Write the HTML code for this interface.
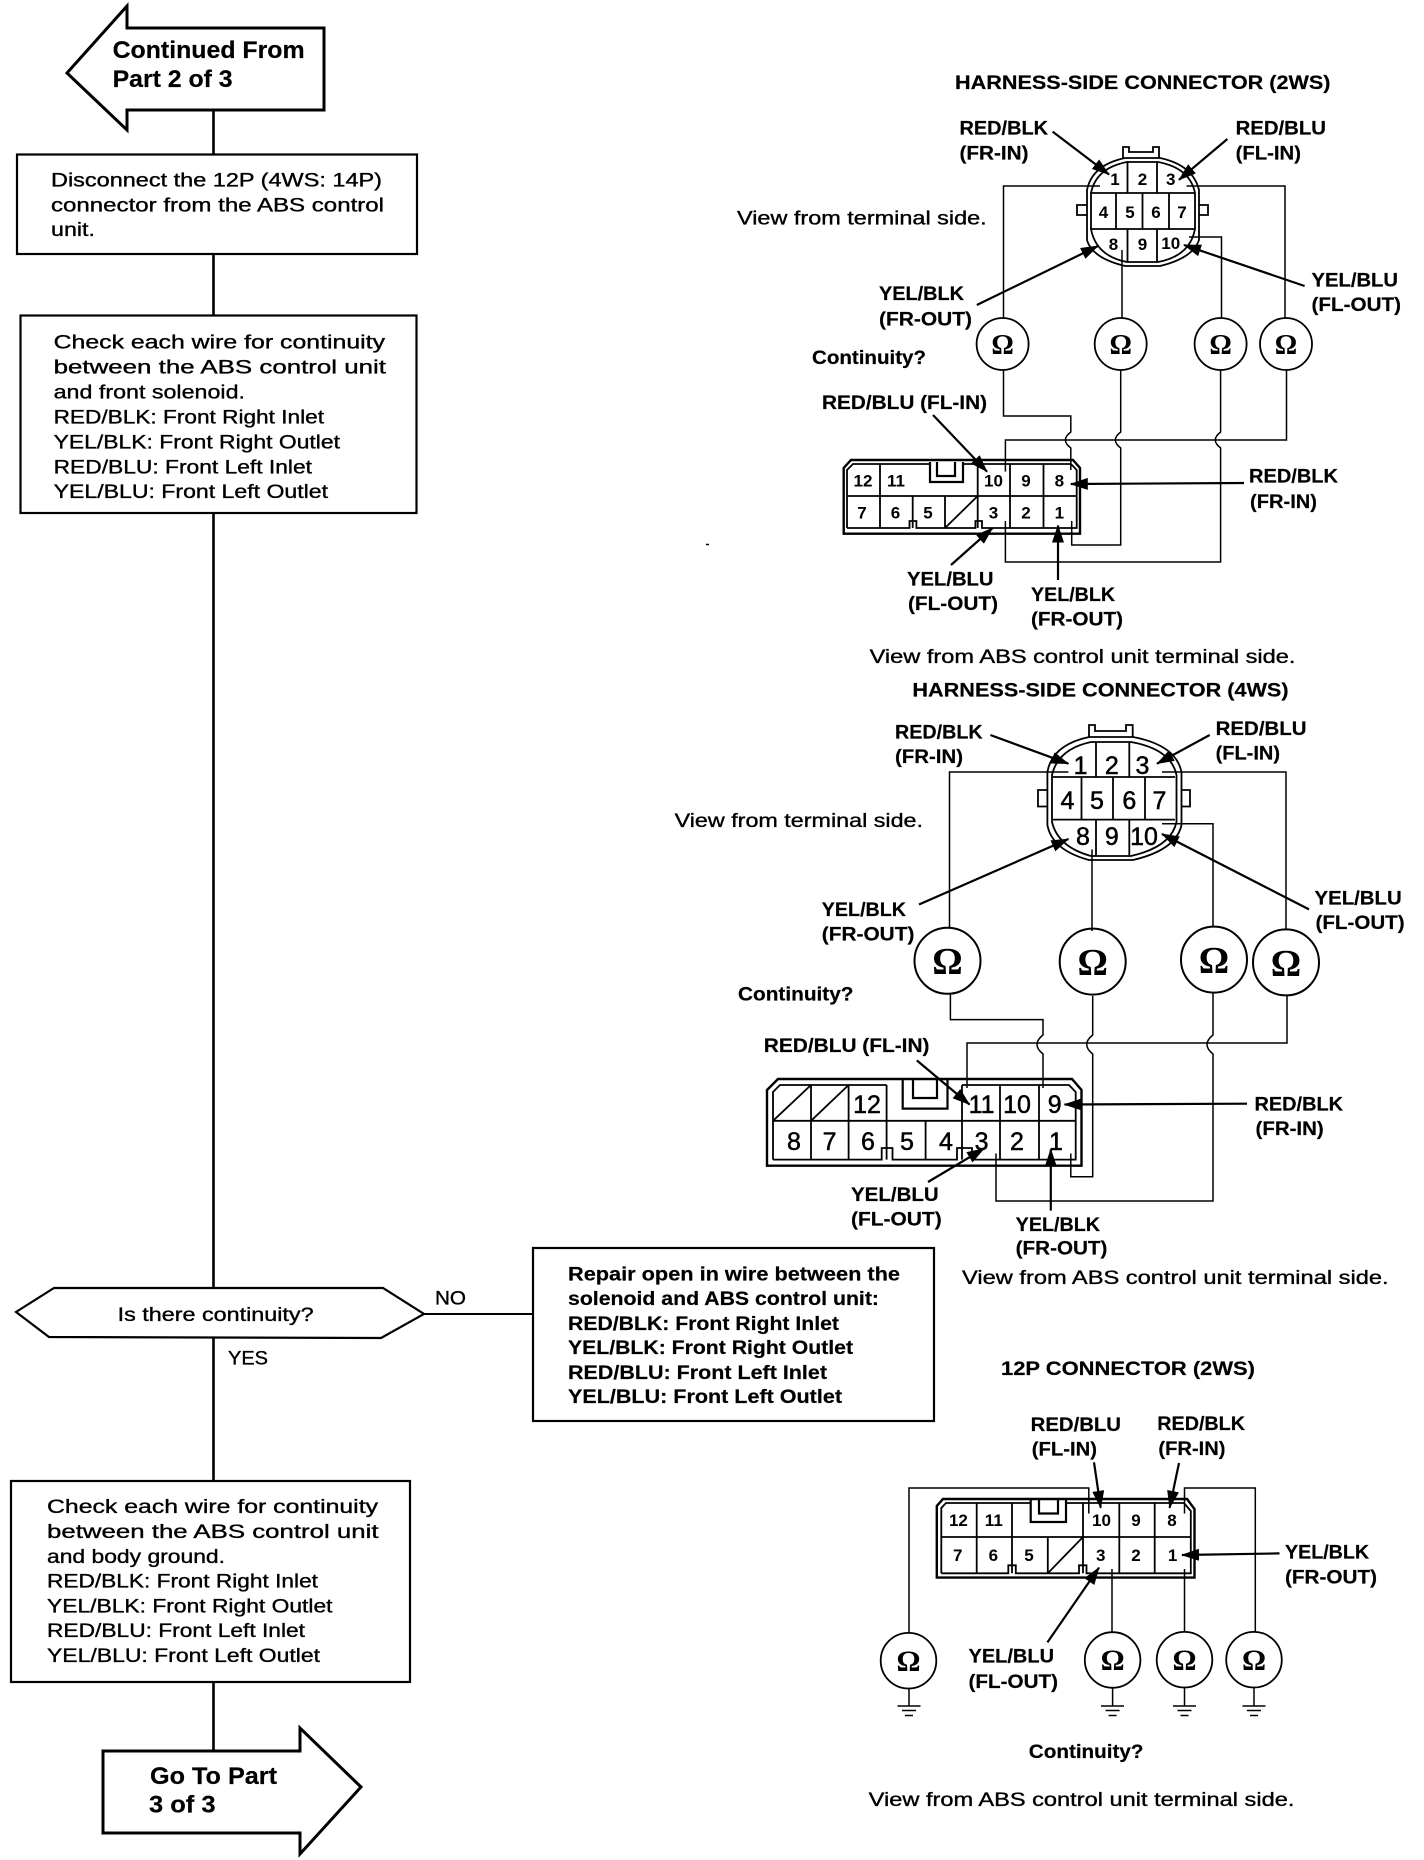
<!DOCTYPE html>
<html><head><meta charset="utf-8"><title>ABS continuity check</title>
<style>
html,body{margin:0;padding:0;background:#fff}
svg{display:block}
text{font-family:"Liberation Sans",sans-serif;fill:#000;font-size:19px;stroke:#000;stroke-width:.35px}
.b{font-weight:bold;stroke-width:.2px}
.m{font-size:25px;text-anchor:middle;stroke-width:.5px}
.s{font-weight:bold;font-size:17px;text-anchor:middle;stroke:none}
.o{font-family:"Liberation Serif",serif;font-weight:bold;text-anchor:middle;stroke:none}
.f{fill:#fff;stroke:#000;stroke-width:2.2}
.l{fill:none;stroke:#000;stroke-width:2.6}
.w{fill:none;stroke:#000;stroke-width:1.5}
.c{fill:none;stroke:#000;stroke-width:1.8}
.a{fill:none;stroke:#000;stroke-width:2.2;marker-end:url(#h)}
</style></head><body>
<svg xmlns="http://www.w3.org/2000/svg" width="1424" height="1860" viewBox="0 0 1424 1860">
<defs><marker id="h" markerWidth="18" markerHeight="12" refX="17" refY="6" orient="auto" markerUnits="userSpaceOnUse"><path d="M0 0L18 6L0 12z"/></marker></defs>

<!-- FLOW LINES -->
<path class="l" d="M213.5 109V155M213.5 254V316M213.5 513V1288M213.5 1338V1482M213.5 1682V1752"/>
<path class="l" style="stroke-width:2" d="M424 1314H533"/>

<!-- START ARROW -->
<polygon class="f" style="stroke-width:3" points="67,73 127,6 127,28 324,28 324,110 127,110 127,130"/>
<text class="b" x="112.6" y="58" style="font-size:24px" textLength="192" lengthAdjust="spacingAndGlyphs">Continued From</text>
<text class="b" x="112.6" y="87" style="font-size:24px" textLength="120" lengthAdjust="spacingAndGlyphs">Part 2 of 3</text>

<!-- BOX 1 -->
<rect class="f" x="17" y="154.5" width="400" height="99.5"/>
<text x="51" y="186.6" textLength="331" lengthAdjust="spacingAndGlyphs">Disconnect the 12P (4WS: 14P)</text>
<text x="51" y="211.5" textLength="333" lengthAdjust="spacingAndGlyphs">connector from the ABS control</text>
<text x="51" y="236" textLength="44" lengthAdjust="spacingAndGlyphs">unit.</text>

<!-- BOX 2 -->
<rect class="f" x="20.5" y="315.5" width="396" height="197.5"/>
<text x="53.6" y="348.7" textLength="331.4" lengthAdjust="spacingAndGlyphs">Check each wire for continuity</text>
<text x="53.6" y="373.7" textLength="332.4" lengthAdjust="spacingAndGlyphs">between the ABS control unit</text>
<text x="53.6" y="398.6" textLength="191.4" lengthAdjust="spacingAndGlyphs">and front solenoid.</text>
<text x="53.6" y="423.5" textLength="270.4" lengthAdjust="spacingAndGlyphs">RED/BLK: Front Right Inlet</text>
<text x="53.6" y="448.4" textLength="286.4" lengthAdjust="spacingAndGlyphs">YEL/BLK: Front Right Outlet</text>
<text x="53.6" y="473.3" textLength="258.4" lengthAdjust="spacingAndGlyphs">RED/BLU: Front Left Inlet</text>
<text x="53.6" y="498.2" textLength="274.4" lengthAdjust="spacingAndGlyphs">YEL/BLU: Front Left Outlet</text>

<!-- DIAMOND -->
<polygon class="f" points="16,1312 54,1288 383,1288 424,1314 381,1338 49,1337"/>
<text x="117.6" y="1321" textLength="196" lengthAdjust="spacingAndGlyphs">Is there continuity?</text>
<text x="435" y="1304.5" textLength="31" lengthAdjust="spacingAndGlyphs">NO</text>
<text x="228" y="1364.5" textLength="40" lengthAdjust="spacingAndGlyphs">YES</text>

<!-- REPAIR BOX -->
<rect class="f" x="533" y="1248" width="401" height="173"/>
<text class="b" x="568" y="1280.7" textLength="332" lengthAdjust="spacingAndGlyphs">Repair open in wire between the</text>
<text class="b" x="568" y="1305" textLength="311" lengthAdjust="spacingAndGlyphs">solenoid and ABS control unit:</text>
<text class="b" x="568" y="1330" textLength="271" lengthAdjust="spacingAndGlyphs">RED/BLK: Front Right Inlet</text>
<text class="b" x="568" y="1354" textLength="285" lengthAdjust="spacingAndGlyphs">YEL/BLK: Front Right Outlet</text>
<text class="b" x="568" y="1379" textLength="259" lengthAdjust="spacingAndGlyphs">RED/BLU: Front Left Inlet</text>
<text class="b" x="568" y="1403" textLength="274" lengthAdjust="spacingAndGlyphs">YEL/BLU: Front Left Outlet</text>

<!-- BOX 3 -->
<rect class="f" x="11" y="1481" width="399" height="201"/>
<text x="47" y="1513" textLength="331" lengthAdjust="spacingAndGlyphs">Check each wire for continuity</text>
<text x="47" y="1538" textLength="331.5" lengthAdjust="spacingAndGlyphs">between the ABS control unit</text>
<text x="47" y="1563" textLength="178" lengthAdjust="spacingAndGlyphs">and body ground.</text>
<text x="47" y="1587.5" textLength="271" lengthAdjust="spacingAndGlyphs">RED/BLK: Front Right Inlet</text>
<text x="47" y="1612.5" textLength="285.5" lengthAdjust="spacingAndGlyphs">YEL/BLK: Front Right Outlet</text>
<text x="47" y="1637" textLength="258" lengthAdjust="spacingAndGlyphs">RED/BLU: Front Left Inlet</text>
<text x="47" y="1662" textLength="273" lengthAdjust="spacingAndGlyphs">YEL/BLU: Front Left Outlet</text>

<!-- END ARROW -->
<polygon class="f" style="stroke-width:3" points="103,1751 300,1751 300,1728 361,1787 300,1854 300,1833 103,1833"/>
<text class="b" x="150" y="1784" style="font-size:24px" textLength="127" lengthAdjust="spacingAndGlyphs">Go To Part</text>
<text class="b" x="149" y="1812.5" style="font-size:24px" textLength="66.5" lengthAdjust="spacingAndGlyphs">3 of 3</text>

<path class="w" d="M706 544.5h3"/>

<!-- ============ 2WS ============ -->
<text class="b" x="955" y="88.8" textLength="375.5" lengthAdjust="spacingAndGlyphs">HARNESS-SIDE CONNECTOR (2WS)</text>
<text class="b" x="959.5" y="134.5" textLength="88.5" lengthAdjust="spacingAndGlyphs">RED/BLK</text>
<text class="b" x="959.5" y="159.4" textLength="69" lengthAdjust="spacingAndGlyphs">(FR-IN)</text>
<text class="b" x="1235.6" y="134.5" textLength="90.4" lengthAdjust="spacingAndGlyphs">RED/BLU</text>
<text class="b" x="1235.6" y="159.4" textLength="65.4" lengthAdjust="spacingAndGlyphs">(FL-IN)</text>
<text x="737" y="224.3" textLength="249.7" lengthAdjust="spacingAndGlyphs">View from terminal side.</text>
<text class="b" x="879" y="300" textLength="85" lengthAdjust="spacingAndGlyphs">YEL/BLK</text>
<text class="b" x="879" y="325.5" textLength="93" lengthAdjust="spacingAndGlyphs">(FR-OUT)</text>
<text class="b" x="1311.5" y="286.7" textLength="86.5" lengthAdjust="spacingAndGlyphs">YEL/BLU</text>
<text class="b" x="1311.5" y="311" textLength="89.5" lengthAdjust="spacingAndGlyphs">(FL-OUT)</text>
<text class="b" x="812" y="364" textLength="114" lengthAdjust="spacingAndGlyphs">Continuity?</text>
<text class="b" x="822" y="409" textLength="165" lengthAdjust="spacingAndGlyphs">RED/BLU (FL-IN)</text>
<text class="b" x="1249" y="482.7" textLength="89" lengthAdjust="spacingAndGlyphs">RED/BLK</text>
<text class="b" x="1250" y="508" textLength="67" lengthAdjust="spacingAndGlyphs">(FR-IN)</text>
<text class="b" x="907" y="585.5" textLength="86.5" lengthAdjust="spacingAndGlyphs">YEL/BLU</text>
<text class="b" x="908" y="610" textLength="90" lengthAdjust="spacingAndGlyphs">(FL-OUT)</text>
<text class="b" x="1031" y="601" textLength="84" lengthAdjust="spacingAndGlyphs">YEL/BLK</text>
<text class="b" x="1031" y="625.5" textLength="92" lengthAdjust="spacingAndGlyphs">(FR-OUT)</text>
<text x="869.6" y="663" textLength="425.9" lengthAdjust="spacingAndGlyphs">View from ABS control unit terminal side.</text>

<!-- round connector 2WS -->
<path class="c" d="M1123 158V147H1129V152H1153V147H1159V158"/>
<path class="c" d="M1087 205H1077V215H1087M1199 205H1208V215H1199"/>
<path class="c" d="M1087 190Q1092 165 1125 158H1160Q1193 165 1199 190V240Q1193 258 1160 266H1125Q1092 258 1087 240Z"/>
<path class="c" d="M1091 193Q1096 168 1127 162H1158Q1190 168 1195 193V229Q1190 256 1158 262H1127Q1096 256 1091 229Z"/>
<path class="c" d="M1090.3 193H1195M1090.3 229H1195M1127.5 162V193M1157 162V193M1116 193V229M1142.5 193V229M1169 193V229M1127.5 229V262M1157 229V262"/>
<text class="s" x="1115" y="185">1</text><text class="s" x="1142.5" y="185">2</text><text class="s" x="1170.7" y="185">3</text>
<text class="s" x="1103.5" y="218">4</text><text class="s" x="1130" y="218">5</text><text class="s" x="1156" y="218">6</text><text class="s" x="1182" y="218">7</text>
<text class="s" x="1113.5" y="250">8</text><text class="s" x="1142.5" y="250">9</text><text class="s" x="1170.7" y="249">10</text>
<path class="w" d="M1100 186H1003.5V318.6M1186.6 186H1285V318.6M1122 250V318.6M1189 237H1221.5V318"/>
<path class="w" d="M1003.5 369.6V416H1070.8V432Q1060 440 1070.8 448V470"/>
<path class="w" d="M1120.7 369.6V432Q1110 440 1120.7 448V545H1071.7V521"/>
<path class="w" d="M1220.6 369.6V432Q1210 440 1220.6 448V562H1005.4V521"/>
<path class="w" d="M1286.5 369.6V440H1005.4V471.6"/>
<g class="w" style="stroke-width:1.8"><circle cx="1002.6" cy="344" r="26"/><circle cx="1120.7" cy="344" r="26"/><circle cx="1220.6" cy="344" r="26"/><circle cx="1286" cy="344" r="26"/></g>
<text class="o" x="1002.6" y="354" style="font-size:28px">Ω</text><text class="o" x="1120.7" y="354" style="font-size:28px">Ω</text><text class="o" x="1220.6" y="354" style="font-size:28px">Ω</text><text class="o" x="1286" y="354" style="font-size:28px">Ω</text>

<!-- 12P rect 2WS -->
<path class="c" d="M843.7 533.7V468L851 460H1073L1080 468V533.7Z" style="stroke-width:2.4"/>
<path class="c" d="M847 528V470L853 464H930M963 464H1071L1076.7 470V528H982V521H975.4V528H916.4V521H909.5V528H847"/>
<path class="c" d="M847 496H1076.7M880 464V528M912.7 496V528M945 496V528M977.7 464V528M1010 464V528M1043.5 464V528M945 528L977.7 496"/>
<path class="c" style="stroke-width:2.2" d="M930 462V482H963V462M937 462V476H955V462"/>
<text class="s" x="863" y="486.6">12</text><text class="s" x="896" y="486.6">11</text><text class="s" x="993.5" y="486.6">10</text><text class="s" x="1026" y="486.6">9</text><text class="s" x="1059.4" y="486.6">8</text>
<text class="s" x="862" y="518.4">7</text><text class="s" x="895.5" y="518.4">6</text><text class="s" x="928" y="518.4">5</text><text class="s" x="993.5" y="518.4">3</text><text class="s" x="1026" y="518.4">2</text><text class="s" x="1059.4" y="518.4">1</text>
<!-- arrows 2WS -->
<path class="a" d="M1052.6 131.6L1109 174.5"/><path class="a" d="M1227.4 139L1179 179.8"/>
<path class="a" d="M976.8 305L1098 246"/><path class="a" d="M1304.6 286L1184 245"/>
<path class="a" d="M933 415L987 471.6"/><path class="a" d="M1244 483L1070.8 484"/>
<path class="a" d="M951 565L992.6 528"/><path class="a" d="M1058 580V525.5"/>

<!-- ============ 4WS ============ -->
<text class="b" x="912.4" y="696.3" textLength="376.2" lengthAdjust="spacingAndGlyphs">HARNESS-SIDE CONNECTOR (4WS)</text>
<text class="b" x="895" y="738.4" textLength="87.6" lengthAdjust="spacingAndGlyphs">RED/BLK</text>
<text class="b" x="895" y="762.9" textLength="68" lengthAdjust="spacingAndGlyphs">(FR-IN)</text>
<text class="b" x="1215.6" y="735" textLength="91" lengthAdjust="spacingAndGlyphs">RED/BLU</text>
<text class="b" x="1215.6" y="759.6" textLength="64.4" lengthAdjust="spacingAndGlyphs">(FL-IN)</text>
<text x="674.6" y="827" textLength="248.4" lengthAdjust="spacingAndGlyphs">View from terminal side.</text>
<text class="b" x="821.8" y="916" textLength="84.2" lengthAdjust="spacingAndGlyphs">YEL/BLK</text>
<text class="b" x="821.8" y="940.4" textLength="92.6" lengthAdjust="spacingAndGlyphs">(FR-OUT)</text>
<text class="b" x="1314.5" y="904.5" textLength="87.2" lengthAdjust="spacingAndGlyphs">YEL/BLU</text>
<text class="b" x="1315.5" y="929" textLength="89.1" lengthAdjust="spacingAndGlyphs">(FL-OUT)</text>
<text class="b" x="738" y="1000.4" textLength="115.5" lengthAdjust="spacingAndGlyphs">Continuity?</text>
<text class="b" x="763.8" y="1052" textLength="165.7" lengthAdjust="spacingAndGlyphs">RED/BLU (FL-IN)</text>
<text class="b" x="1254.5" y="1110.6" textLength="88.5" lengthAdjust="spacingAndGlyphs">RED/BLK</text>
<text class="b" x="1255.5" y="1135" textLength="68.2" lengthAdjust="spacingAndGlyphs">(FR-IN)</text>
<text class="b" x="851" y="1201" textLength="87.7" lengthAdjust="spacingAndGlyphs">YEL/BLU</text>
<text class="b" x="851" y="1225.7" textLength="90.7" lengthAdjust="spacingAndGlyphs">(FL-OUT)</text>
<text class="b" x="1015.7" y="1231" textLength="84.3" lengthAdjust="spacingAndGlyphs">YEL/BLK</text>
<text class="b" x="1015.7" y="1254.7" textLength="91.7" lengthAdjust="spacingAndGlyphs">(FR-OUT)</text>
<text x="962" y="1284" textLength="426.6" lengthAdjust="spacingAndGlyphs">View from ABS control unit terminal side.</text>

<path class="c" d="M1089 737V725H1095V731H1126V725H1132.7V737"/>
<path class="c" d="M1048 790H1038V806.5H1048M1181 790H1190V806.5H1181"/>
<path class="c" d="M1047.4 772Q1052 745 1089 737H1133Q1176 745 1181.5 772V825Q1176 850 1133 860H1089Q1052 850 1047.4 825Z"/>
<path class="c" d="M1052 775Q1058 749 1091 742H1131Q1171 749 1176.5 775V822Q1171 847 1131 856H1091Q1058 847 1052 822Z"/>
<path class="c" d="M1052.8 777H1175M1052.8 819.6H1175M1096 742V777M1129.3 742V777M1081.5 777V819.6M1113 777V819.6M1145 777V819.6M1096 819.6V856M1129.3 819.6V856"/>
<text class="m" x="1080.6" y="774">1</text><text class="m" x="1111.8" y="774">2</text><text class="m" x="1142.5" y="774">3</text>
<text class="m" x="1067.4" y="809">4</text><text class="m" x="1097" y="809">5</text><text class="m" x="1129.3" y="809">6</text><text class="m" x="1159.5" y="809">7</text>
<text class="m" x="1083" y="845">8</text><text class="m" x="1111.8" y="845">9</text><text class="m" x="1144" y="845">10</text>
<path class="w" d="M1068.4 772H949.5V927.8M1162 772H1286V929.8M1092 849.4V931M1162 823.7H1213V927"/>
<path class="w" d="M950.4 994V1019.6H1043V1035Q1031 1044.5 1043 1054V1088"/>
<path class="w" d="M1092.7 996V1035Q1080.7 1044.5 1092.7 1054V1176.7H1070.8V1153.5"/>
<path class="w" d="M1213 992V1035Q1201 1044.5 1213 1054V1201H996V1153.5"/>
<path class="w" d="M1287 995V1043H967V1088"/>
<g class="w" style="stroke-width:2"><circle cx="947.5" cy="960.8" r="33"/><circle cx="1092.7" cy="961.6" r="33"/><circle cx="1214" cy="959.6" r="33"/><circle cx="1286" cy="962.4" r="33"/></g>
<text class="o" x="947.5" y="974" style="font-size:38px">Ω</text><text class="o" x="1092.7" y="975" style="font-size:38px">Ω</text><text class="o" x="1214" y="973" style="font-size:38px">Ω</text><text class="o" x="1286" y="976" style="font-size:38px">Ω</text>

<path class="c" style="stroke-width:2.4" d="M767 1165.7V1090L778 1079H1072L1081.5 1090V1165.7Z"/>
<path class="c" d="M773 1159.6V1092L780 1085H886.6M962 1085H1069L1075.7 1092V1159.6H972V1148H957V1159.6H892.5V1148H881.7V1159.6H773"/>
<path class="c" d="M773 1120.8H1075.7M811 1085V1159.6M848.6 1085V1159.6M886.6 1085V1159.6M925.6 1120.8V1159.6M962 1085V1159.6M1000 1085V1159.6M1039 1085V1159.6M773 1120.8L811 1085M811 1120.8L848.6 1085"/>
<path class="c" style="stroke-width:2.2" d="M902.7 1080V1108.6H947.5V1080M913 1080V1098H937V1080"/>
<text class="m" x="867" y="1113">12</text><text class="m" x="981.6" y="1113">11</text><text class="m" x="1017" y="1113">10</text><text class="m" x="1054.7" y="1113">9</text>
<text class="m" x="794" y="1150">8</text><text class="m" x="829.6" y="1150">7</text><text class="m" x="868" y="1150">6</text><text class="m" x="907" y="1150">5</text><text class="m" x="946" y="1150">4</text><text class="m" x="981.6" y="1150">3</text><text class="m" x="1017" y="1150">2</text><text class="m" x="1056" y="1150">1</text>
<path class="a" d="M990.4 735L1068.4 763.7"/><path class="a" d="M1209.7 735L1157 763.7"/>
<path class="a" d="M919 904.5L1068.4 839"/><path class="a" d="M1309 909.4L1162 834"/>
<path class="a" d="M916.8 1060.4L969.5 1104.5"/><path class="a" d="M1247 1103.7L1064.5 1104.5"/>
<path class="a" d="M928 1182L984 1148.6"/><path class="a" d="M1050.8 1210.6V1149.4"/>

<!-- ============ 12P ============ -->
<text class="b" x="1001" y="1375" textLength="254" lengthAdjust="spacingAndGlyphs">12P CONNECTOR (2WS)</text>
<text class="b" x="1030.7" y="1431" textLength="90.3" lengthAdjust="spacingAndGlyphs">RED/BLU</text>
<text class="b" x="1031.8" y="1455.5" textLength="65.2" lengthAdjust="spacingAndGlyphs">(FL-IN)</text>
<text class="b" x="1157.3" y="1430" textLength="87.7" lengthAdjust="spacingAndGlyphs">RED/BLK</text>
<text class="b" x="1158.4" y="1455" textLength="67.1" lengthAdjust="spacingAndGlyphs">(FR-IN)</text>
<text class="b" x="1285" y="1558.4" textLength="84" lengthAdjust="spacingAndGlyphs">YEL/BLK</text>
<text class="b" x="1285" y="1583.6" textLength="92" lengthAdjust="spacingAndGlyphs">(FR-OUT)</text>
<text class="b" x="968.5" y="1662.5" textLength="85.5" lengthAdjust="spacingAndGlyphs">YEL/BLU</text>
<text class="b" x="968.5" y="1688" textLength="89.5" lengthAdjust="spacingAndGlyphs">(FL-OUT)</text>
<text class="b" x="1028.8" y="1757.8" textLength="114.7" lengthAdjust="spacingAndGlyphs">Continuity?</text>
<text x="868.7" y="1806" textLength="425.7" lengthAdjust="spacingAndGlyphs">View from ABS control unit terminal side.</text>

<path class="w" d="M909 1632.4V1488H1088.8V1513.5M1112 1569V1632.4M1184.5 1569V1632.4M1184.5 1513.5V1488H1255.3V1632"/>
<path class="c" style="stroke-width:2.4" d="M936.8 1577.6V1506L943 1499H1187L1194.5 1509V1577.6Z"/>
<path class="c" d="M941.3 1573.3V1508L946 1503H1030.7M1066 1503H1184L1190.8 1511V1573.3H1086.5V1565.3H1079V1573.3H1015.8V1565.3H1008.3V1573.3H941.3"/>
<path class="c" d="M941.3 1537H1190.8M976.7 1503V1573.3M1012 1503V1573.3M1047.8 1537V1573.3M1083 1503V1573.3M1119.3 1503V1573.3M1154.7 1503V1573.3M1047.8 1573.3L1083 1537"/>
<path class="c" style="stroke-width:2.2" d="M1030.7 1499.5V1522H1066V1499.5M1039 1499.5V1513.5H1058V1499.5"/>
<text class="s" x="958.4" y="1526">12</text><text class="s" x="993.8" y="1526">11</text><text class="s" x="1101.5" y="1526">10</text><text class="s" x="1136" y="1526">9</text><text class="s" x="1172" y="1526">8</text>
<text class="s" x="957.7" y="1561">7</text><text class="s" x="993.4" y="1561">6</text><text class="s" x="1029" y="1561">5</text><text class="s" x="1100.7" y="1561">3</text><text class="s" x="1136" y="1561">2</text><text class="s" x="1172.6" y="1561">1</text>
<g class="w" style="stroke-width:1.8"><circle cx="908.5" cy="1660.7" r="27.8"/><circle cx="1112.6" cy="1660" r="27.8"/><circle cx="1184.5" cy="1659.7" r="27.8"/><circle cx="1254" cy="1659.7" r="27.8"/></g>
<text class="o" x="908.5" y="1671" style="font-size:30px">Ω</text><text class="o" x="1112.6" y="1670" style="font-size:30px">Ω</text><text class="o" x="1184.5" y="1670" style="font-size:30px">Ω</text><text class="o" x="1254" y="1670" style="font-size:30px">Ω</text>
<path class="w" d="M909 1688V1706M897.5 1706H920.5M902 1710.5H916M905 1715.5H913"/>
<path class="w" d="M1112.6 1688V1706M1101 1706H1124M1105.6 1710.5H1119.6M1108.6 1715.5H1116.6"/>
<path class="w" d="M1184.5 1687.5V1706M1173 1706H1196M1177.5 1710.5H1191.5M1180.5 1715.5H1188.5"/>
<path class="w" d="M1254 1687.5V1706M1242.5 1706H1265.5M1247 1710.5H1261M1250 1715.5H1258"/>
<path class="a" d="M1094 1462.3L1100.7 1507.8"/><path class="a" d="M1179 1463L1169.6 1507.8"/>
<path class="a" d="M1279.5 1553.4L1182 1555"/><path class="a" d="M1047.4 1642.4L1099 1567.6"/>
</svg>
</body></html>
